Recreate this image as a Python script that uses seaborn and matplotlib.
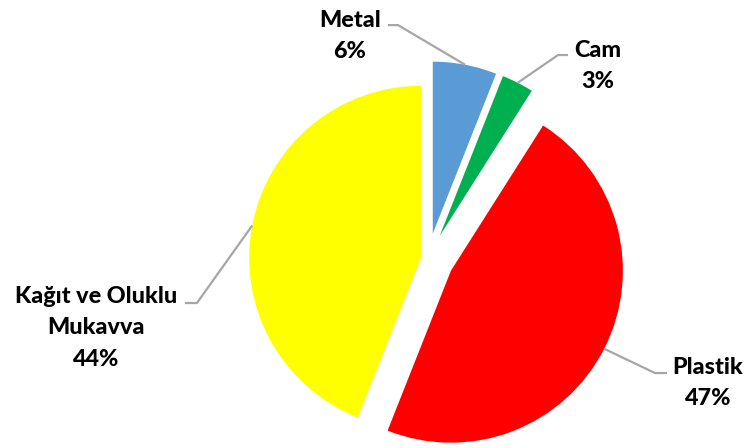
import numpy as np
import matplotlib
matplotlib.use("Agg")
import matplotlib.pyplot as plt
import seaborn as sns

# Data
categories = ["Metal", "Cam", "Plastik", "Kağıt ve Oluklu\nMukavva"]
values = [6, 3, 47, 44]
colors = ["#5B9BD5", "#00B050", "#FF0000", "#FFFF00"]
explode = [0.15, 0.15, 0.15, 0.04]

sns.set_theme(style="white")
plt.rcParams['font.family'] = ['Lato', 'DejaVu Sans']

fig = plt.figure(figsize=(7.47, 4.48), dpi=100)
ax = fig.add_axes([0, 0, 1, 1])

wedges, _ = ax.pie(values, explode=explode, colors=colors, startangle=90,
                   counterclock=False, radius=1.0,
                   wedgeprops=dict(linewidth=0))

ax.set_aspect('auto')
ax.set_xlim(-2.488, 1.855)
ax.set_ylim(-1.099, 1.506)
ax.axis('off')

# label layout: (text center), (label-side end of horizontal segment), (elbow)
layout = [
    ((-0.453, 1.297), (-0.233, 1.360), (-0.174, 1.360)),
    ((0.988, 1.122), (0.814, 1.186), (0.756, 1.186)),
    ((1.628, -0.721), (1.390, -0.663), (1.320, -0.663)),
    ((-1.930, -0.401), (-1.413, -0.256), (-1.343, -0.256)),
]

total = sum(values)
line_color = "#A6A6A6"
for w, cat, v, (tpos, seg_a, seg_b) in zip(wedges, categories, values, layout):
    ang = np.deg2rad((w.theta1 + w.theta2) / 2)
    cx, cy = w.center
    ax_pt = (cx + w.r * np.cos(ang), cy + w.r * np.sin(ang))
    ax.plot([seg_a[0], seg_b[0], ax_pt[0]], [seg_a[1], seg_b[1], ax_pt[1]],
            color=line_color, lw=1.6, solid_capstyle='butt', zorder=1)
    pct = f"{round(100 * v / total)}%"
    ax.text(tpos[0], tpos[1], f"{cat}\n{pct}", ha='center', va='center',
            multialignment='center', fontsize=16.8, fontweight='black',
            color='black', linespacing=1.6)

fig.savefig("out.png", dpi=100)
